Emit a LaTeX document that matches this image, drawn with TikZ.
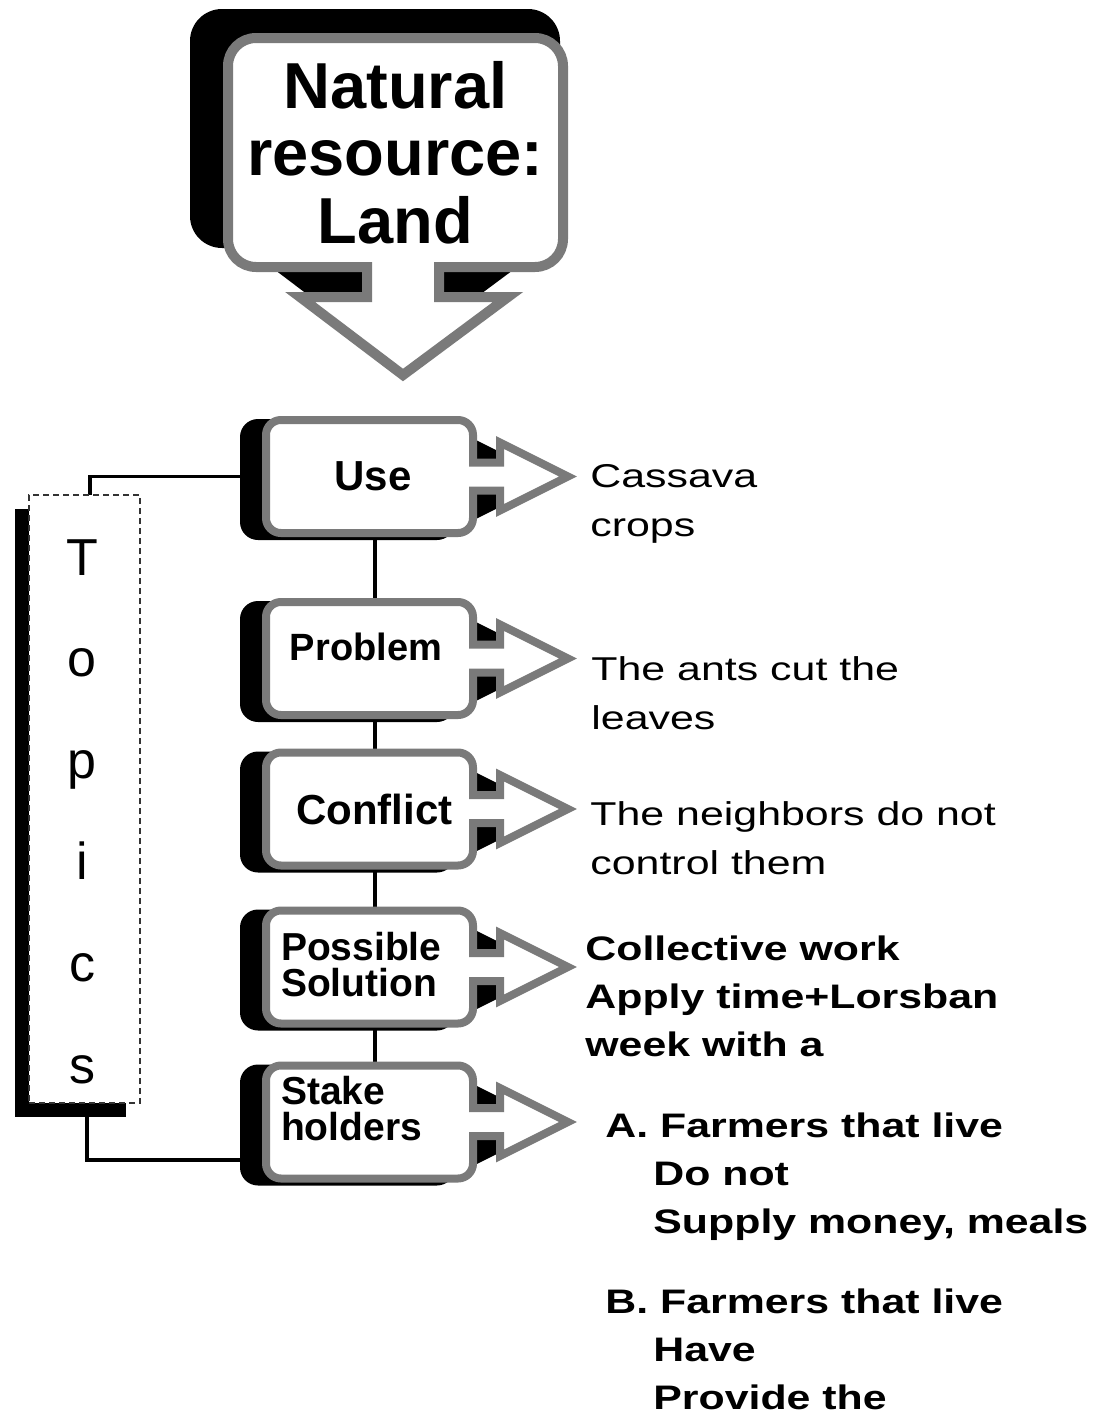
\documentclass[tikz,border=0pt]{standalone}
\usepackage{fontspec}
\setmainfont{Liberation Sans}
\newfontfamily\widesans[FakeStretch=1.3]{Liberation Sans}
\newfontfamily\widesansb[FakeStretch=1.26]{Liberation Sans}
\usetikzlibrary{backgrounds}

\colorlet{rim}{black!52}

\tikzset{
  topicbox/.style={rectangle, rounded corners=7.5pt, draw=rim, line width=4pt,
    fill=white, minimum width=103.5pt, minimum height=56.5pt, inner sep=0pt,
    outer sep=0pt, font=\fontsize{21pt}{16pt}\selectfont\bfseries},
  twoline/.style={text width=88.5pt, align=left,
    font=\fontsize{19.5pt}{18pt}\selectfont\bfseries},
  titlebox/.style={rectangle, rounded corners=14pt, draw=rim, line width=5pt,
    fill=white, minimum width=167.5pt, minimum height=114.5pt, inner sep=0pt,
    outer sep=0pt, align=center,
    font=\fontsize{32.5pt}{33.75pt}\selectfont\bfseries},
  sidebar/.style={rectangle, draw=black!80, densely dashed, line width=0.7pt,
    fill=white, minimum width=55.5pt, minimum height=304pt, inner sep=0pt,
    outer sep=0pt},
  conn/.style={line width=1.6pt, black},
  reply/.style={anchor=north west, inner sep=0pt, align=left,
    font=\widesans\fontsize{16.5pt}{24.5pt}\selectfont},
  replyb/.style={anchor=north west, inner sep=0pt, align=left,
    font=\widesansb\fontsize{17pt}{24pt}\selectfont\bfseries},
}

% dark drop block and right-pointing tag of a topic box
\newcommand\sidepointer[1]{%
  \begin{scope}[on background layer]
    \fill[black, rounded corners=9pt] ([shift={(-26,-1)}]#1.north west)
      rectangle ([shift={(-18,7)}]#1.south east);
    \filldraw[black, line width=4pt] ([shift={(-22,-11)}]#1.east)
      -- ++(27,0) -- ++(0,-20) -- ++(68,34) -- ++(-68,34) -- ++(0,-20)
      -- ++(-27,0) -- cycle;
  \end{scope}
  \fill[white] ([shift={(-6,-14)}]#1.east)
    -- ++(33,0) -- ++(0,-20) -- ++(68,34) -- ++(-68,34) -- ++(0,-20)
    -- ++(-33,0) -- cycle;
  \draw[rim, line width=4pt, line join=miter] ([shift={(-4,-14)}]#1.east)
    -- ++(31,0) -- ++(0,-20) -- ++(68,34) -- ++(-68,34) -- ++(0,-20)
    -- ++(-31,0);
}

\begin{document}
\begin{tikzpicture}[x=0.5pt, y=-0.5pt]
\useasboundingbox (0,0) rectangle (1102,1419);
\begin{scope}[on background layer]
  \fill[white] (0,0) rectangle (1102,1419);
\end{scope}

% title callout
\node[titlebox] (resource) at (395.5,152.5) {Natural\\resource:\\Land};

% topic boxes
\node[topicbox] (use) at (369.5,476.5) {\hspace*{3.5pt}Use};
\node[topicbox, font=\fontsize{19pt}{16pt}\selectfont\bfseries] (problem)
  at (369.5,658.5) {\rule[-14pt]{0pt}{29.5pt}Problem\hspace*{3.5pt}};
\node[topicbox] (conflict) at (369.5,809) {\hspace*{5pt}Conflict};
\node[topicbox, twoline] (solution) at (369.5,967)
  {\rule{0pt}{16pt}Possible\\\rule[-5pt]{0pt}{5pt}Solution};
\node[topicbox, twoline] (stake) at (369.5,1122)
  {\rule{0pt}{16pt}Stake\\\rule[-16pt]{0pt}{16pt}holders};

% vertical side label
\node[sidebar] (topics) at (84.5,799) {};
\node[anchor=north, inner sep=0pt, align=center,
  font=\fontsize{26pt}{50.8pt}\selectfont] (topicsword) at (82,539)
  {T\\o\\p\\i\\c\\s};

% shadows and connectors behind the boxes
\begin{scope}[on background layer]
  \fill[black, rounded corners=16pt] ([shift={(-38,-29)}]resource.north west)
    rectangle ([shift={(-3,-19)}]resource.south east);
  \filldraw[black, line width=5pt] ([shift={(-38.5,-22)}]resource.south)
    -- ++(0,30) -- ++(-67,0) -- ++(103,78) -- ++(105,-78) -- ++(-69,0)
    -- cycle;
  \fill[black] ([shift={(-14,14)}]topics.north west)
    rectangle ([shift={(-14,14)}]topics.south east);

  \draw[conn] (use.west) -| ([shift={(5.5,0)}]topics.north);
  \draw[conn] ([shift={(0,38)}]stake.west) -| ([shift={(2.5,14)}]topics.south);
  \draw[conn] ([shift={(5.5,0)}]use.south) -- ([shift={(5.5,0)}]problem.north);
  \draw[conn] ([shift={(5.5,0)}]problem.south) -- ([shift={(5.5,0)}]conflict.north);
  \draw[conn] ([shift={(5.5,0)}]conflict.south) -- ([shift={(5.5,0)}]solution.north);
  \draw[conn] ([shift={(5.5,0)}]solution.south) -- ([shift={(5.5,0)}]stake.north);
\end{scope}

% downward pointer of the title callout
\fill[white] ([shift={(-28.5,-8)}]resource.south)
  -- ++(0,38) -- ++(-67,0) -- ++(103,78) -- ++(105,-78) -- ++(-69,0)
  -- ++(0,-38) -- cycle;
\draw[rim, line width=5pt, line join=miter] ([shift={(-28.5,-5)}]resource.south)
  -- ++(0,35) -- ++(-67,0) -- ++(103,78) -- ++(105,-78) -- ++(-69,0)
  -- ++(0,-35);

% right-pointing tags
\sidepointer{use}
\sidepointer{problem}
\sidepointer{conflict}
\sidepointer{solution}
\sidepointer{stake}

% answers
\node[reply] (usetext) at (590,464) {Cassava\\crops};
\node[reply] (problemtext) at (591,656) {The ants cut the\\leaves};
\node[reply] (conflicttext) at (590,801) {The neighbors do not\\control them};
\node[replyb] (solutiontext) at (585,935)
  {Collective work\\Apply time+Lorsban\\week with a};
\node[replyb] (staketextA) at (605,1112)
  {A. Farmers that live\\\hspace*{24pt}Do not\\\hspace*{24pt}Supply money, meals};
\node[replyb] (staketextB) at (605,1288)
  {B. Farmers that live\\\hspace*{24pt}Have\\\hspace*{24pt}Provide the};
\end{tikzpicture}
\end{document}
